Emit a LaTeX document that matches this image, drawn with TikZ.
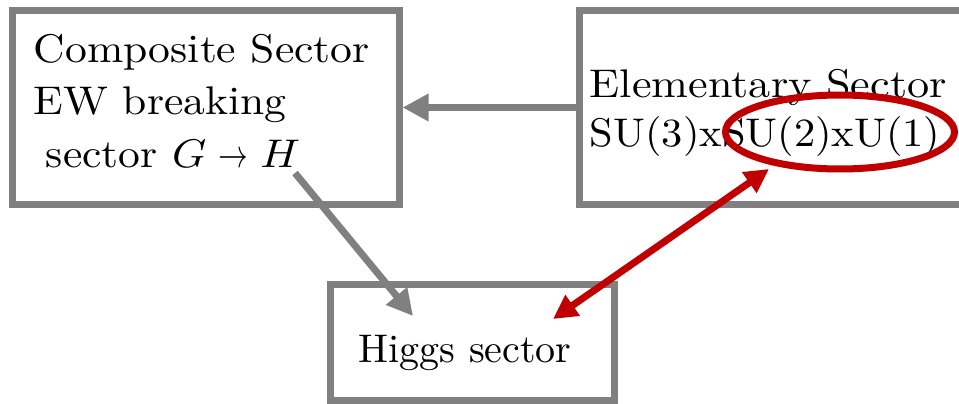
\RequirePackage{fix-cm}
\documentclass[tikz,border=0pt]{standalone}
\usepackage{graphicx}
\usetikzlibrary{arrows.meta,shapes.geometric}
\definecolor{boxgray}{HTML}{808080}
\definecolor{darkred}{HTML}{C00000}
\begin{document}
\begin{tikzpicture}[x=1pt,y=-1pt,
  box/.style={draw=boxgray,line width=7pt,inner sep=0pt,rectangle},
  lbl/.style={anchor=base west,inner sep=0pt,font=\fontsize{10}{12}\selectfont,scale=4,transform shape},
  wide/.style={xscale=1.09},
  garrow/.style={draw=boxgray,line width=7pt,-{Triangle[length=26pt,width=26pt]}},
  rarrow/.style={draw=darkred,line width=7pt,{Triangle[length=24pt,width=24pt]}-{Triangle[length=24pt,width=24pt]}}]
\useasboundingbox (0,0) rectangle (959,404);
\clip (0,0) rectangle (959,404);
% boxes
\node[box,minimum width=387pt,minimum height=193pt] (comp) at (205.5,107.5) {};
\node[box,minimum width=420pt,minimum height=193pt] (elem) at (789,107.5) {};
\node[box,minimum width=284pt,minimum height=116pt] (higgs) at (472,342) {};
% texts
\node[lbl,wide] (t1) at (33,63) {Composite Sector};
\node[lbl,wide] (t2) at (33,114) {EW breaking};
\node[lbl,wide] (t3) at (45,167) {sector $G\mathrel{\scalebox{0.68}[1]{$\rightarrow$}}H$};
\node[lbl,xscale=1.105] (t4) at (589,98) {Elementary Sector};
\node[lbl,xscale=1.062] (t5) at (589,146) {SU(3)xSU(2)xU(1)};
\node[lbl] (t6) at (358,362) {Higgs sector};
% ellipse
\node[draw=darkred,line width=7pt,ellipse,minimum width=229pt,minimum height=74pt,inner sep=0pt] (ell) at (840,132) {};
% connectors
\draw[garrow] (elem.west) -- (comp.east);
\coordinate (gs) at (295,173);
\coordinate (ge) at (413,316);
\draw[garrow] (gs) -- (ge);
\coordinate (ra) at (553,319);
\coordinate (rb) at (769,169);
\draw[rarrow] (ra) -- (rb);
\end{tikzpicture}
\end{document}
